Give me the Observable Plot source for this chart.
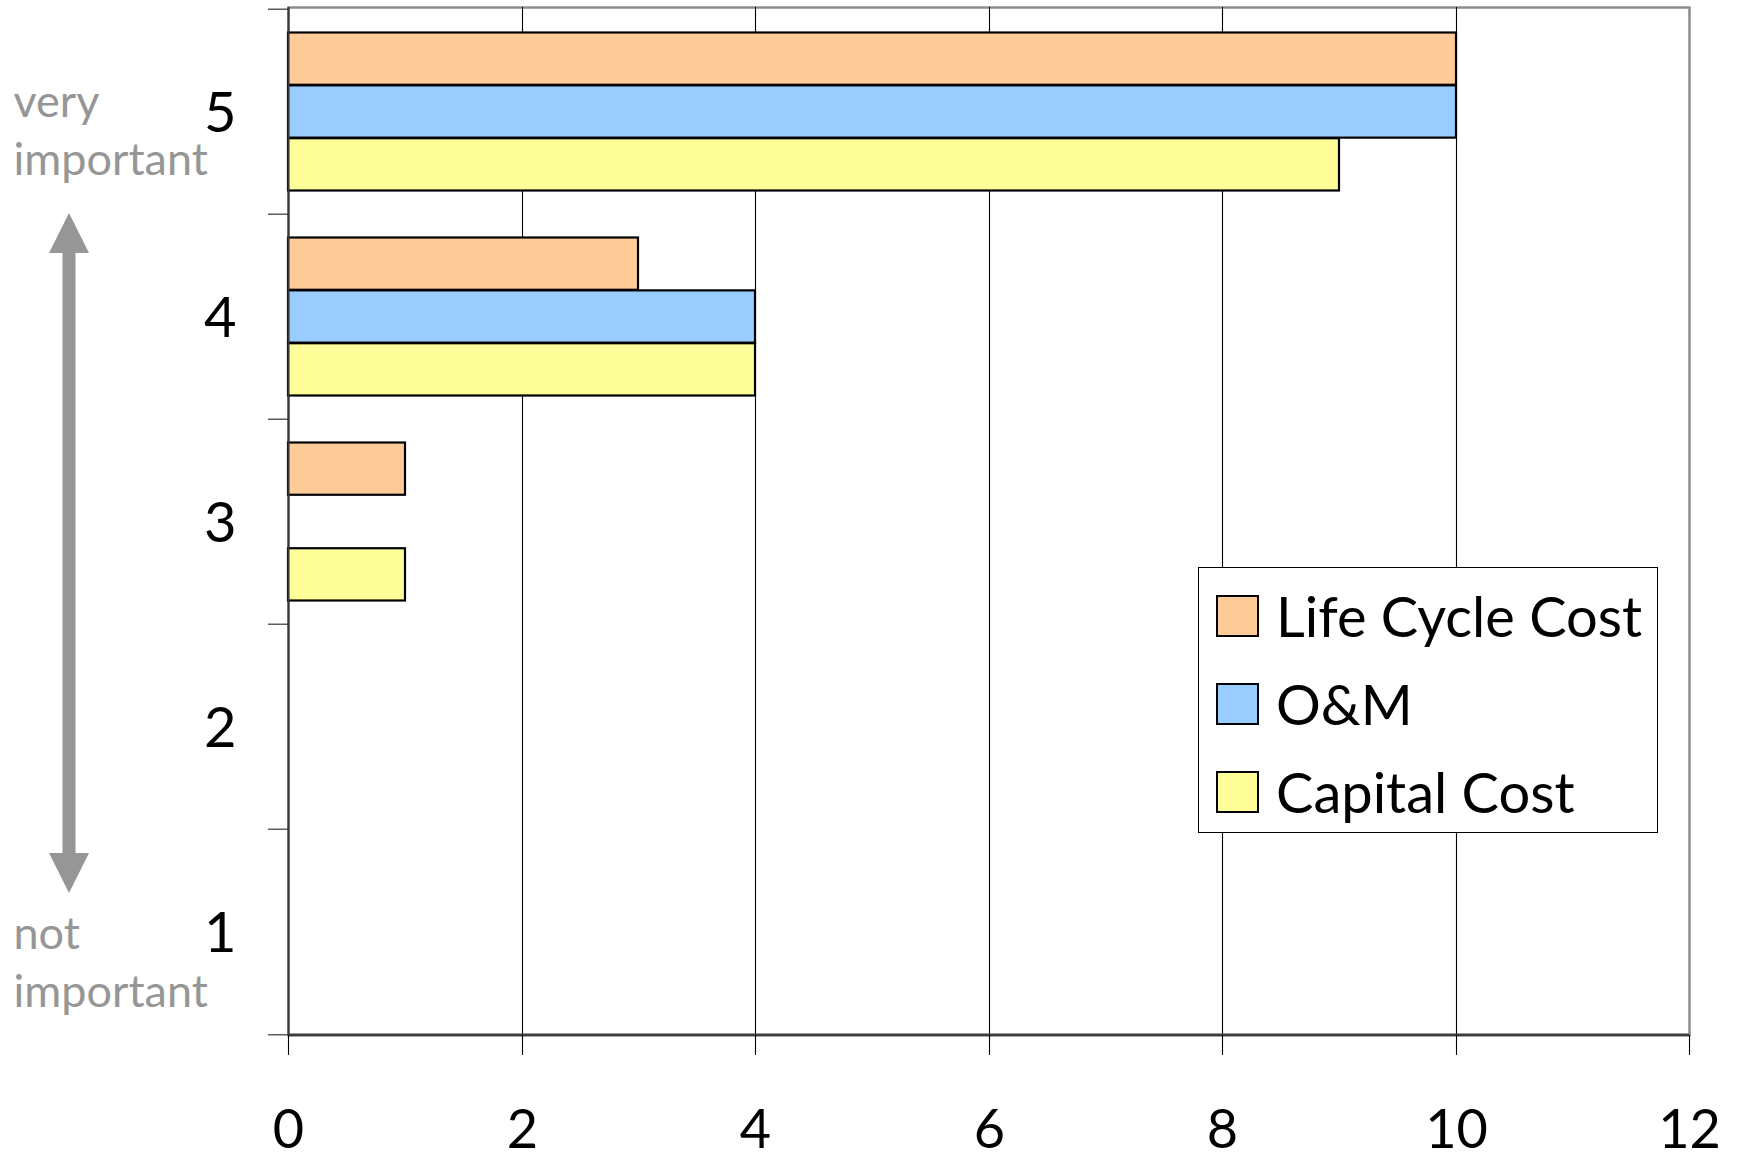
<!DOCTYPE html>
<html>
<head>
<meta charset="utf-8">
<script src="https://cdn.jsdelivr.net/npm/d3@7"></script>
<script src="https://cdn.jsdelivr.net/npm/@observablehq/plot@0.6"></script>
<style>
  html, body { margin: 0; padding: 0; background: #fff; }
  #wrap { position: relative; width: 1738px; height: 1160px; overflow: hidden; font-family: Lato, "Open Sans", sans-serif; }
  #wrap > svg { position: absolute; left: 0; top: 0; }
  #legend { position: absolute; left: 1198px; top: 567px; width: 460px; height: 266px; box-sizing: border-box;
            border: 1px solid #000; background: #fff; padding: 4px 0 0 17px; }
  #legend .row { height: 88px; display: flex; align-items: center; }
  #legend .sw { width: 43px; height: 42px; box-sizing: border-box; border: 2px solid #000; margin-right: 17px; flex: none; }
  #legend .lab { font-size: 56px; line-height: 1.2; color: #000; white-space: nowrap; }
  #arrow { position: absolute; left: 0; top: 0; }
</style>
</head>
<body>
<div id="wrap"></div>
<script>
// ---- data ----
const ratings = [5, 4, 3, 2, 1];
const series = ["Life Cycle Cost", "O&M", "Capital Cost"];
const lifeCycleCost = [10, 3, 1, 0, 0];
const oAndM = [10, 4, 0, 0, 0];
const capitalCost = [9, 4, 1, 0, 0];
const xTicks = [0, 2, 4, 6, 8, 10, 12];
const gridTicks = [2, 4, 6, 8, 10];
const colors = ["#FFCC99", "#99CCFF", "#FFFF99"];

const valuesBySeries = [lifeCycleCost, oAndM, capitalCost];
const data = [];
series.forEach((s, si) => ratings.forEach((r, ri) => data.push({series: s, rating: r, value: valuesBySeries[si][ri]})));

// ---- layout ----
const W = 1738, H = 1160;
const mL = 288, mR = 49, mT = 7, mB = 125;
const plotW = W - mL - mR;
const bw = (H - mT - mB) / ratings.length;
const pad = 23.5;
const barH = (bw - 2 * pad) / series.length;

const barMarks = series.map((s, i) =>
  Plot.barX(data.filter(d => d.series === s && d.value > 0), {
    y: "rating", x: "value", fill: "series",
    stroke: "#000", strokeWidth: 2.2,
    insetTop: pad + i * barH,
    insetBottom: bw - pad - (i + 1) * barH
  })
);

const plot = Plot.plot({
  width: W, height: H,
  marginLeft: mL, marginRight: mR, marginTop: mT, marginBottom: mB,
  style: {fontFamily: "Lato", background: "transparent", overflow: "visible"},
  x: {domain: [0, 12], ticks: xTicks, round: true},
  y: {domain: ratings, type: "band", padding: 0},
  color: {domain: series, range: colors},
  marks: [
    Plot.frame({stroke: "#8c8c8c", strokeWidth: 2.5}),
    Plot.ruleX(gridTicks, {stroke: "#000", strokeWidth: 1.1}),
    ...barMarks,
    Plot.ruleX([0], {stroke: "#383838", strokeWidth: 2}),
    Plot.ruleY([1], {y: d => d, dy: bw / 2, stroke: "#3c3c3c", strokeWidth: 2.5}),
    // boundary ticks on the category axis
    Plot.ruleY(ratings, {y: d => d, dy: -bw / 2, insetLeft: -20, insetRight: plotW, stroke: "#333", strokeWidth: 1.2}),
    Plot.ruleY([1], {y: d => d, dy: bw / 2, insetLeft: -20, insetRight: plotW, stroke: "#333", strokeWidth: 1.2}),
    Plot.axisX({ticks: xTicks, tickSize: 20, tickPadding: 54, fontSize: 54, stroke: "#000", strokeWidth: 1.1, fill: "#000", label: null}),
    Plot.axisY({tickSize: 0, tickPadding: 52, fontSize: 56, fill: "#000", label: null, dy: 2}),
    // side annotations
    Plot.text([5], {y: d => d, x: () => 0, text: () => "very\nimportant", dx: -275, dy: 15.5,
      textAnchor: "start", lineAnchor: "middle", lineHeight: 1.29, fontSize: 45, fill: "#969696"}),
    Plot.text([1], {y: d => d, x: () => 0, text: () => "not\nimportant", dx: -275, dy: 27.5,
      textAnchor: "start", lineAnchor: "middle", lineHeight: 1.29, fontSize: 45, fill: "#969696"})
  ]
});

const wrap = document.getElementById("wrap");
wrap.appendChild(plot);

// double-headed arrow annotation
const ns = "http://www.w3.org/2000/svg";
const arrowSvg = document.createElementNS(ns, "svg");
arrowSvg.setAttribute("id", "arrow");
arrowSvg.setAttribute("width", 140);
arrowSvg.setAttribute("height", H);
const acx = 69, aTop = 213, aBot = 893, ahh = 40, ahw = 20, asw = 6.5;
const poly = document.createElementNS(ns, "polygon");
poly.setAttribute("points", [
  [acx, aTop], [acx + ahw, aTop + ahh], [acx + asw, aTop + ahh], [acx + asw, aBot - ahh], [acx + ahw, aBot - ahh],
  [acx, aBot], [acx - ahw, aBot - ahh], [acx - asw, aBot - ahh], [acx - asw, aTop + ahh], [acx - ahw, aTop + ahh]
].map(p => p.join(",")).join(" "));
poly.setAttribute("fill", "#969696");
arrowSvg.appendChild(poly);
wrap.appendChild(arrowSvg);

// legend built from the color scale
const cs = plot.scale("color");
const legend = document.createElement("div");
legend.id = "legend";
cs.domain.forEach((s, i) => {
  const row = document.createElement("div");
  row.className = "row";
  const sw = document.createElement("div");
  sw.className = "sw";
  sw.style.background = cs.range[i];
  const lab = document.createElement("div");
  lab.className = "lab";
  lab.textContent = s;
  row.appendChild(sw);
  row.appendChild(lab);
  legend.appendChild(row);
});
wrap.appendChild(legend);
</script>
</body>
</html>
